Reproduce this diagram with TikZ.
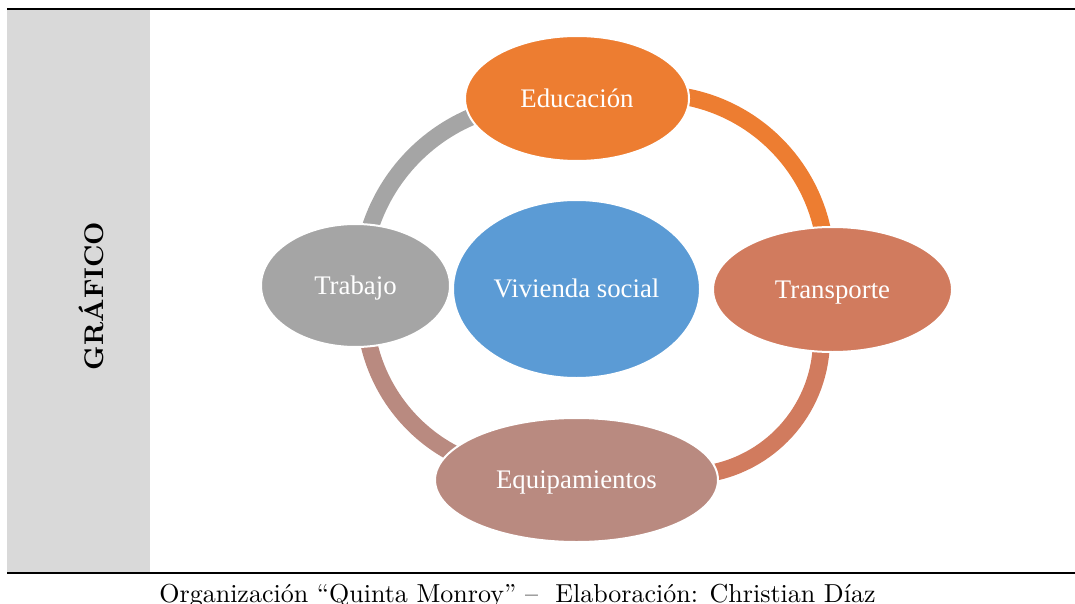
\documentclass[tikz,border=0pt]{standalone}
\usepackage{fontspec}
\newfontfamily\tnr{Liberation Serif}
\newfontfamily\lmcap{lmroman10-regular}[Extension=.otf]
\newfontfamily\lmbold{lmroman10-bold}[Extension=.otf]
\usetikzlibrary{shapes.geometric}
\definecolor{cEdu}{HTML}{ED7D31}
\definecolor{cTra}{HTML}{D17B5E}
\definecolor{cEqu}{HTML}{B98A80}
\definecolor{cTrab}{HTML}{A5A5A5}
\definecolor{cViv}{HTML}{5B9BD5}
\definecolor{cPanel}{HTML}{D9D9D9}
\begin{document}
\begin{tikzpicture}[x=1pt,y=-1pt,
  bubble/.style={ellipse, draw=white, line width=2pt, inner sep=0pt, text=white,
    font=\tnr\fontsize{26.8}{30}\selectfont, text height=17.5pt, text depth=0pt},
  ring/.style={line width=17pt},
  rulestyle/.style={line width=2pt}]
\useasboundingbox (0,0) rectangle (1075,604);
\fill[cPanel] (7,10) rectangle (150,572);
\draw[rulestyle] (7,9) -- (1075,9);
\draw[rulestyle] (7,573) -- (1075,573);
\node[rotate=90, anchor=base, inner sep=0pt, font=\lmbold\fontsize{27}{30}\selectfont] (lbl) at (103,296) {GRÁFICO};
% ring arcs
\coordinate (cTL) at (542.7,283.7);
\coordinate (cTR) at (653.8,266.3);
\coordinate (cBR) at (685.4,339.5);
\coordinate (cBL) at (530.9,306.4);
\draw[ring, cTrab] (cTL) ++(-110:181.4) arc[start angle=-110, end angle=-165, radius=181.4];
\draw[ring, cEdu] (cTR) ++(-83:172.5) arc[start angle=-83, end angle=-8, radius=172.5];
\draw[ring, cTra] (cBR) ++(0:136) arc[start angle=0, end angle=80, radius=136];
\draw[ring, cEqu] (cBL) ++(-190:166.3) arc[start angle=-190, end angle=-244, radius=166.3];
% bubbles
\node[bubble, fill=cViv, minimum width=247pt, minimum height=178pt] (viv) at (576.5,289) {Vivienda social};
\node[bubble, fill=cEdu, minimum width=224pt, minimum height=125pt] (edu) at (577,98.5) {Educación};
\node[bubble, fill=cTra, minimum width=239pt, minimum height=125pt] (tra) at (832.5,289.5) {Transporte};
\node[bubble, fill=cEqu, minimum width=283pt, minimum height=124pt] (equ) at (576.5,480) {Equipamientos};
\node[bubble, fill=cTrab, minimum width=189pt, minimum height=123pt] (trab) at (355.5,285.5) {Trabajo};
\node[anchor=base, font=\lmcap\fontsize{26}{30}\selectfont] (cap) at (517.5,602) {Organización “Quinta Monroy” – \ Elaboración: Christian Díaz};
\end{tikzpicture}
\end{document}
